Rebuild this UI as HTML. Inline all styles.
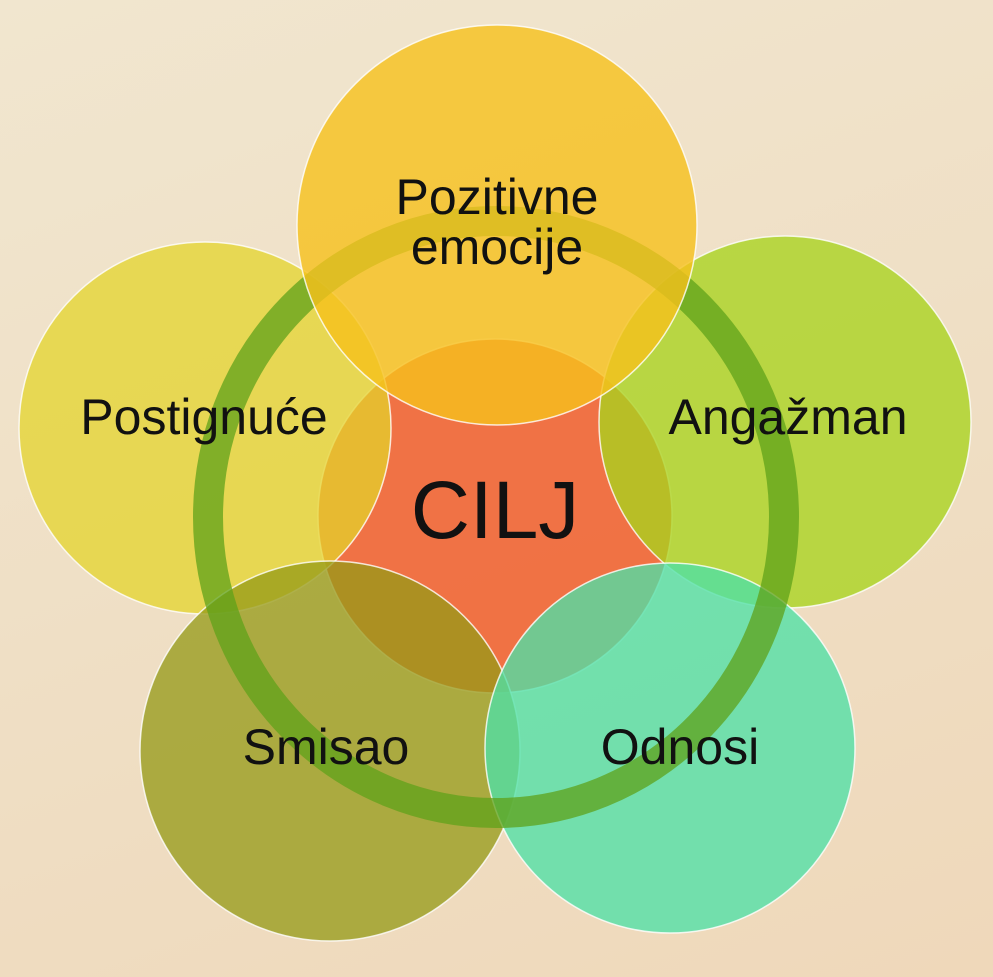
<!DOCTYPE html>
<html><head><meta charset="utf-8"><style>
html,body{margin:0;padding:0;width:993px;height:977px;overflow:hidden}
body{background:linear-gradient(160deg,#f1e6cf 0%,#efdfc5 50%,#efd8ba 100%)}
svg{display:block}
text{font-family:"Liberation Sans",sans-serif;fill:#111;text-anchor:middle}
</style></head><body>
<svg width="993" height="977" viewBox="0 0 993 977">
<g stroke="#fff" stroke-width="1.5" stroke-opacity="0.8">
<circle cx="495" cy="516" r="177" fill="#f0683a" fill-opacity="0.92"/>
<circle cx="205" cy="428" r="186" fill="#e4d42a" fill-opacity="0.74"/>
<circle cx="785" cy="422" r="186" fill="#a8d41e" fill-opacity="0.78"/>
<circle cx="330" cy="751" r="190" fill="#969a18" fill-opacity="0.76"/>
<circle cx="670" cy="748" r="185" fill="#4ee0a6" fill-opacity="0.78"/>
</g>
<ellipse cx="496" cy="517" rx="288" ry="296" fill="none" stroke="#5fa11a" stroke-width="30" stroke-opacity="0.75"/>
<circle cx="497" cy="225" r="200" fill="#f6c01c" fill-opacity="0.8" stroke="#fff" stroke-width="1.5" stroke-opacity="0.8"/>
<text x="497" y="214" font-size="50">Pozitivne</text>
<text x="497" y="264" font-size="50">emocije</text>
<text x="204" y="434" font-size="50">Postignuće</text>
<text x="788" y="434" font-size="50">Angažman</text>
<text x="495" y="538" font-size="82">CILJ</text>
<text x="326" y="764" font-size="50">Smisao</text>
<text x="680" y="764" font-size="50">Odnosi</text>
</svg>
</body></html>
